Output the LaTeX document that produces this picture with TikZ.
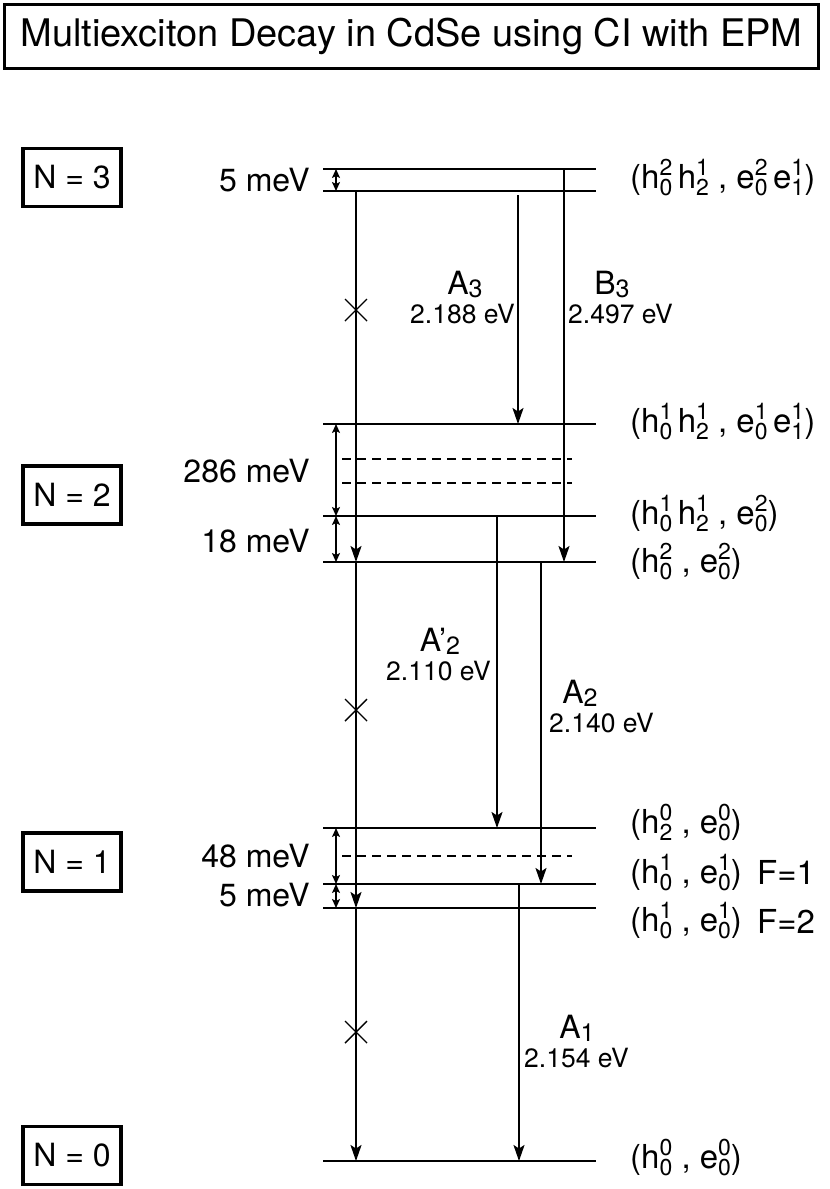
\documentclass[tikz,border=0pt]{standalone}
\usepackage{fontspec}
\setmainfont{TeX Gyre Heros}
\usetikzlibrary{arrows.meta}
\newcommand{\hx}[3]{#1\makebox[0pt][l]{\raisebox{-7pt}{\fontsize{23}{23}\selectfont #2}}\raisebox{12.5pt}{\fontsize{23}{23}\selectfont #3}}
\newcommand{\sbx}[1]{\raisebox{-3.5pt}{\fontsize{25}{25}\selectfont #1}}
\begin{document}
\begin{tikzpicture}[x=1pt,y=-1pt,
  lev/.style={line width=2.3pt},
  dlev/.style={line width=1.6pt,dash pattern=on 9pt off 6pt},
  tr/.style={line width=1.9pt,-{Stealth[length=16pt,width=11pt,inset=3.5pt]}},
  gap/.style={line width=1.7pt,{Stealth[length=9pt,width=8pt,inset=2pt]}-{Stealth[length=9pt,width=8pt,inset=2pt]}},
  xm/.style={line width=1.4pt},
  nbox/.style={draw,line width=3.2pt,minimum width=98pt,minimum height=58pt,inner sep=0pt,font=\fontsize{32}{32}\selectfont},
  big/.style={font=\fontsize{32}{32}\selectfont},
  val/.style={font=\fontsize{26.5}{26.5}\selectfont},
  lab/.style={anchor=base west,inner sep=0pt,font=\fontsize{33}{33}\selectfont},
  gl/.style={anchor=base east,inner sep=0pt,font=\fontsize{32}{32}\selectfont}
]
\useasboundingbox (0,0) rectangle (830,1189);
% title
\node[draw,line width=3.5pt,minimum width=814pt,minimum height=64pt,inner sep=0pt,
      font=\fontsize{38}{38}\selectfont] (title) at (411.5,36.5) {Multiexciton Decay in CdSe using CI with EPM};
% N boxes
\node[nbox] (n3) at (72,177.5) {N = 3};
\node[nbox] (n2) at (72,495) {N = 2};
\node[nbox] (n1) at (72,862) {N = 1};
\node[nbox] (n0) at (72,1155.5) {N = 0};
% levels
\coordinate (l3aL) at (323,169); \coordinate (l3aR) at (596,169);
\coordinate (l3bL) at (323,191); \coordinate (l3bR) at (596,191);
\coordinate (l2aL) at (323,424); \coordinate (l2aR) at (596,424);
\coordinate (d2aL) at (342,459); \coordinate (d2aR) at (572,459);
\coordinate (d2bL) at (342,483); \coordinate (d2bR) at (572,483);
\coordinate (l2bL) at (323,516); \coordinate (l2bR) at (596,516);
\coordinate (l2cL) at (323,562); \coordinate (l2cR) at (596,562);
\coordinate (l1aL) at (323,828); \coordinate (l1aR) at (596,828);
\coordinate (d1aL) at (342,856); \coordinate (d1aR) at (572,856);
\coordinate (l1bL) at (323,884); \coordinate (l1bR) at (596,884);
\coordinate (l1cL) at (323,908); \coordinate (l1cR) at (596,908);
\coordinate (l0L) at (323,1161); \coordinate (l0R) at (596,1161);
\foreach \a in {l3a,l3b,l2a,l2b,l2c,l1a,l1b,l1c,l0} \draw[lev] (\a L) -- (\a R);
\foreach \a in {d2a,d2b,d1a} \draw[dlev] (\a L) -- (\a R);
% columns
\coordinate (cx) at (356,0);
\coordinate (cg) at (336,0);
\coordinate (cA3) at (518,0);
\coordinate (cB3) at (564,0);
\coordinate (cA2p) at (497,0);
\coordinate (cA2) at (541,0);
\coordinate (cA1) at (519,0);
\coordinate (a3s) at (518,195);
% gap arrows
\draw[gap] (cg |- l3aL) -- (cg |- l3bL);
\draw[gap] (cg |- l2aL) -- (cg |- l2bL);
\draw[gap] (cg |- l2bL) -- (cg |- l2cL);
\draw[gap] (cg |- l1aL) -- (cg |- l1bL);
\draw[gap] (cg |- l1bL) -- (cg |- l1cL);
% main forbidden line
\draw[tr] (cx |- l3bL) -- (cx |- l2cL);
\draw[tr] (cx |- l2cL) -- (cx |- l1cL);
\draw[tr] (cx |- l1cL) -- (cx |- l0L);
\coordinate (x1) at (356,310);
\coordinate (x2) at (356,710);
\coordinate (x3) at (356,1032);
\foreach \c in {x1,x2,x3} \draw[xm] (\c) +(-11,-11) -- +(11,11) (\c) +(-11,11) -- +(11,-11);
% transitions
\draw[tr] (a3s) -- (cA3 |- l2aL);
\draw[tr] (cB3 |- l3aL) -- (cB3 |- l2cL);
\draw[tr] (cA2p |- l2bL) -- (cA2p |- l1aL);
\draw[tr] (cA2 |- l2cL) -- (cA2 |- l1bL);
\draw[tr] (cA1 |- l1bL) -- (cA1 |- l0L);
% gap labels
\node[gl] (g1) at (310,191) {5 meV};
\node[gl] (g2) at (310,482) {286 meV};
\node[gl] (g3) at (310,552) {18 meV};
\node[gl] (g4) at (310,867) {48 meV};
\node[gl] (g5) at (310,906) {5 meV};
% transition labels
\node[big,anchor=base,inner sep=0pt] (tA3) at (465,294) {A\sbx{3}};
\node[val,anchor=base east,inner sep=0pt] (vA3) at (515,323) {2.188 eV};
\node[big,anchor=base,inner sep=0pt] (tB3) at (612,294) {B\sbx{3}};
\node[val,anchor=base west,inner sep=0pt] (vB3) at (568,323) {2.497 eV};
\node[big,anchor=base,inner sep=0pt] (tA2p) at (440,651) {A\symbol{39}\sbx{2}};
\node[val,anchor=base east,inner sep=0pt] (vA2p) at (491,680) {2.110 eV};
\node[big,anchor=base,inner sep=0pt] (tA2) at (580,703) {A\sbx{2}};
\node[val,anchor=base west,inner sep=0pt] (vA2) at (549,732) {2.140 eV};
\node[big,anchor=base,inner sep=0pt] (tA1) at (577,1038) {A\sbx{1}};
\node[val,anchor=base west,inner sep=0pt] (vA1) at (524,1067) {2.154 eV};
% state labels
\node[lab] (s1) at (630,188) {(\hx{h}{0}{2}\,\hx{h}{2}{1} , \hx{e}{0}{2}\,\hx{e}{1}{1})};
\node[lab] (s2) at (630,432) {(\hx{h}{0}{1}\,\hx{h}{2}{1} , \hx{e}{0}{1}\,\hx{e}{1}{1})};
\node[lab] (s3) at (630,524) {(\hx{h}{0}{1}\,\hx{h}{2}{1} , \hx{e}{0}{2})};
\node[lab] (s4) at (630,572) {(\hx{h}{0}{2} , \hx{e}{0}{2})};
\node[lab] (s5) at (630,833) {(\hx{h}{2}{0} , \hx{e}{0}{0})};
\node[lab] (s6) at (630,883) {(\hx{h}{0}{1} , \hx{e}{0}{1})};
\node[lab] (f1) at (757,884) {F=1};
\node[lab] (s7) at (630,931) {(\hx{h}{0}{1} , \hx{e}{0}{1})};
\node[lab] (f2) at (757,933) {F=2};
\node[lab] (s8) at (630,1168) {(\hx{h}{0}{0} , \hx{e}{0}{0})};
\end{tikzpicture}
\end{document}
